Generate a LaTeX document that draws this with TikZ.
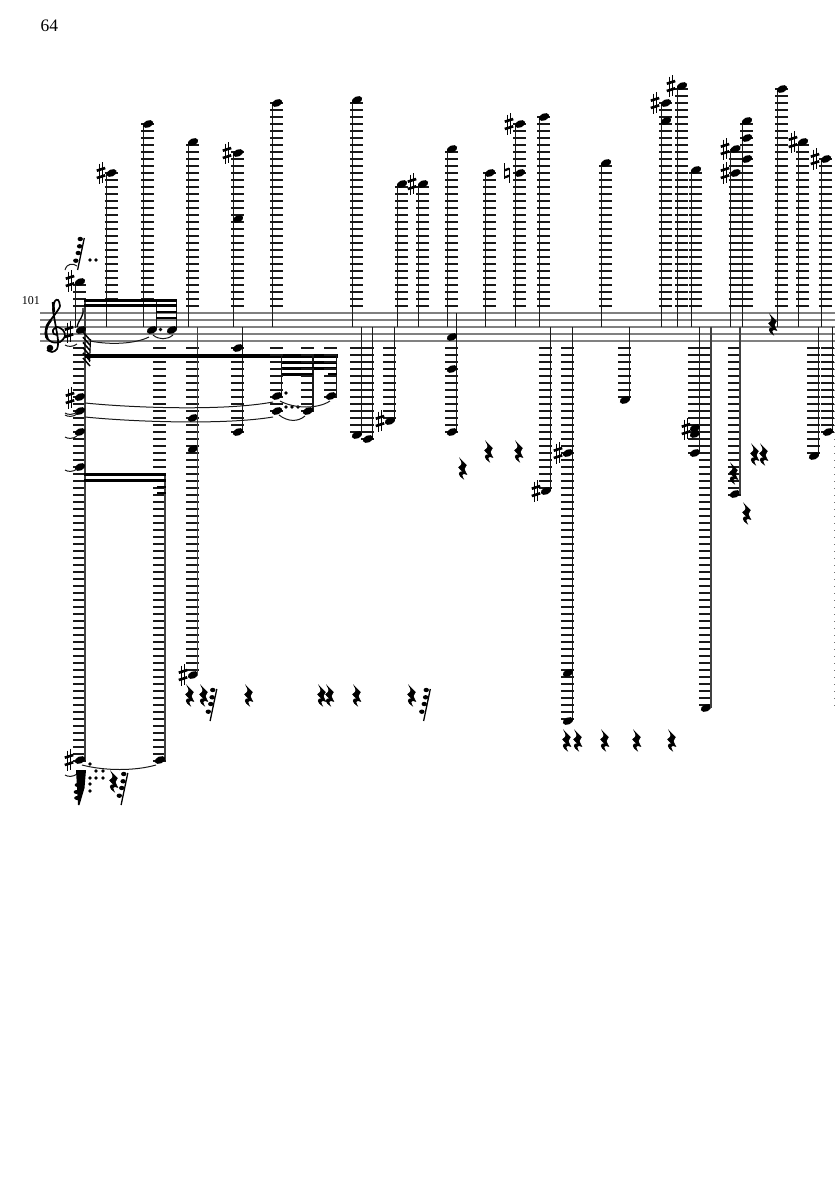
\documentclass[tikz,border=0pt]{standalone}
\usepackage{tikz}
\usepackage{fontspec}
\setmainfont{Liberation Serif}
\tikzset{
  staffline/.style={line width=1.1pt,draw=black!50},
  stemline/.style={line width=1.25pt,draw=black!90},
  thickstem/.style={line width=1.9pt,draw=black!75},
  ledger/.style={line width=1.3pt,draw=black!90},
  beam/.style={line width=4pt,draw=black},
  thinbeam/.style={line width=2.2pt,draw=black},
  slur/.style={line width=1pt,draw=black!90},
  dotmark/.style={fill=black},
}
% head
\newcommand\nh[2]{\fill[rotate around={24:(#1,#2)}] (#1,#2) ellipse [x radius=5.5pt,y radius=3.5pt];}
% sharp
\newcommand\shp[2]{\begin{scope}[shift={(#1,#2)}]
  \draw[line width=.95pt] (-1.9,-9.5) -- (-1.9,11) (1.9,-11) -- (1.9,9.5);
  \draw[line width=2.6pt] (-4.2,-2.3) -- (4.2,-5) (-4.2,5) -- (4.2,2.3);
\end{scope}}
% natural
\newcommand\ntl[2]{\begin{scope}[shift={(#1,#2)}]
  \draw[line width=1pt] (-2.4,-10) -- (-2.4,5.5) (2.4,-5.5) -- (2.4,10);
  \draw[line width=2.3pt] (-2.4,-2.7) -- (2.4,-4.4) (-2.4,4.4) -- (2.4,2.7);
\end{scope}}
% ledgers above the staff
\newcommand\ledup[2]{\pgfmathtruncatemacro\nn{int((313-#2+1)/7)}
  \foreach \k in {1,...,\nn}{\draw[ledger] (#1-6.8,313-7*\k) -- (#1+6.3,313-7*\k);}}
% ledgers below the staff
\newcommand\leddn[2]{\pgfmathtruncatemacro\nn{int((#2-341+1)/7)}
  \foreach \k in {1,...,\nn}{\draw[ledger] (#1-6.8,341+7*\k) -- (#1+6.3,341+7*\k);}}
% high note: head x, top y; stem to the left, reaching the middle of the staff
\newcommand\hin[2]{\ledup{#1}{#2}\draw[stemline] (#1-4.8,#2) -- (#1-4.8,327);\nh{#1}{#2}}
% low note: head x, lowest y; stem to the right
\newcommand\lon[2]{\leddn{#1}{#2}\draw[stemline] (#1+4.8,327) -- (#1+4.8,#2);\nh{#1}{#2}}
% quarter rest
\newcommand\qrest[2]{\filldraw[line width=.6pt,shift={(#1,#2)},xscale=1.35,yscale=1.08] (-1.5,-9.5) -- (3.2,-3.5) .. controls (1.5,-1.5) and (1,0) .. (3.5,5) .. controls (1,3.5) and (-1.5,4.5) .. (1,9) .. controls (-3,6) and (-3,2) .. (0.5,2.5) -- (-2.5,-1.5) .. controls (0.5,-4) and (0.5,-6) .. cycle;}
% 64th-style rest
\newcommand\hrest[2]{\begin{scope}[shift={(#1,#2)}]
  \draw[line width=1.3pt] (3.3,-16) -- (-3.4,16);
  \foreach \yy/\xx in {-15/-0.8,-7.7/-1.4,-1/-2.8,6.7/-5.2}{\fill (\xx,\yy) ellipse [x radius=2.7pt,y radius=2.2pt];}
\end{scope}}
\newcommand\dotm[2]{\fill[dotmark] (#1,#2) circle [radius=1.8pt];}
\begin{document}
\begin{tikzpicture}[x=1pt,y=-1pt]
\useasboundingbox (0,0) rectangle (835,1181);
\fill[white] (0,0) rectangle (835,1181);
\node[anchor=west,inner sep=0pt,font=\fontsize{17.5}{17.5}\selectfont] (pagenum) at (40.5,25.5) {64};
\node[anchor=east,inner sep=0pt,font=\fontsize{12}{12}\selectfont] (barnum) at (40,301) {101};
% staff
\foreach \yy in {313,320,327,334,341}{\draw[staffline] (40,\yy) -- (835,\yy);}
% clef and key
\draw[line width=1.7pt] plot[smooth] coordinates {(58,335)(54,334)(53,330)(57,327)(63,330)(65,336)(60,342)(52,342)(46,337)(46,330)(50,321)(56,313)(60,306)(58,300)(55,301)(53,309)(55,322)(58,340)(57,349)(52,352)(47,350)};
\draw[line width=2.6pt] plot[smooth] coordinates {(47.5,339)(46,333)(47,326)(51,320)};
\draw[line width=2.4pt] (53,302) -- (54,312);
\fill (50,348) circle [radius=3.3pt];
\shp{69}{332}
% high notes
\hin{111.5}{173}\shp{101}{173}
\hin{148}{124}
\hin{193}{142}
\hin{238}{153}\nh{238}{219}\shp{227}{153}
\hin{277}{103}
\hin{357}{100}
\hin{402}{184}
\hin{423}{184}\shp{412}{184}
\hin{452}{149}
\hin{490}{173}
\hin{520}{124}\nh{520}{173}\shp{509}{124}\ntl{507}{173}
\hin{544}{117}
\hin{606}{163}
\hin{666}{103}\nh{666}{121}\shp{655}{103}
\hin{682}{86}\shp{671}{86}
\hin{696}{170}
\hin{735.5}{149}\nh{735.5}{173}\shp{725}{149}\shp{725}{173}
\hin{747}{121}\nh{747}{138}\nh{747}{159}
\hin{782}{89}
\hin{803}{142}\shp{793}{142}
\hin{826}{159}\shp{815}{159}
% low notes
\lon{193}{675}\nh{193}{418}\nh{193}{449}\shp{183}{675}
\draw[thickstem] (197.5,327) -- (197.5,675);
\lon{238}{432}\nh{238}{348}
\lon{357}{435}
\lon{368}{439}
\lon{390}{421}\shp{380}{421}
\ledup{80}{282}
\leddn{452}{432}\draw[stemline] (456.8,313) -- (456.8,432);\nh{452}{432}\nh{452}{337}\nh{452}{369}
\lon{546}{491}\shp{536}{491}
\lon{568}{721}\nh{568}{453}\nh{568}{673}\shp{558}{453}
\lon{625}{400}
\lon{695}{453}\nh{695}{428}\nh{695}{434}\shp{686}{429}
\lon{706}{708}
\draw[thickstem] (711,327) -- (711,708);
\lon{735}{494}
\draw[thickstem] (740,327) -- (740,494);
\lon{814}{456}
\lon{828}{432}
\foreach \k in {1,...,52}{\draw[line width=1pt,draw=black!55] (834.2,341+7*\k) -- (835,341+7*\k);}
% first column
\leddn{80}{760}
\leddn{160}{760}
\draw[thickstem] (84.7,300) -- (84.7,760);
\draw[stemline] (75.5,282) -- (75.5,328);
\draw[line width=1.3pt] (77,327) .. controls (79,318) and (84,318) .. (83,308);
\nh{80}{282}\shp{70}{281}
\nh{81}{330}
\nh{80}{397}\shp{70}{398}
\nh{80}{411}\nh{80}{432}\nh{80}{467}
\nh{80}{760}\shp{69}{760}
% top beamed group
\draw[stemline] (156.5,300) -- (156.5,329);
\draw[stemline] (176.2,300) -- (176.2,329);
\nh{152}{330}\nh{172}{330}
\draw[line width=2.6pt] (84,300.5) -- (177,300.5);
\draw[line width=3pt] (84,305.7) -- (177,305.7);
\draw[thinbeam] (156,312) -- (177,312);
\draw[thinbeam] (156,318) -- (177,318);
\dotm{160.5}{329.5}
% hatched flag
\foreach \k in {0,...,5}{\draw[line width=1.5pt] (83,332+5.2*\k) -- (90,340+5.2*\k);}
\draw[line width=1.2pt] (90.5,339) -- (89.5,362);
% long beam
\draw[beam] (85,355.5) -- (337.5,355.5);
\draw[stemline] (281.8,355) -- (281.8,396);
\draw[stemline] (313,355) -- (313,411);
\draw[stemline] (336.3,355) -- (336.3,396);
\draw[thinbeam,line width=3pt] (282,362.5) -- (337,362.5);
\draw[thinbeam,line width=2.4pt] (282,368.5) -- (337,368.5);
\draw[thinbeam,line width=3pt] (282,374.5) -- (313,374.5);
\draw[thinbeam,line width=3pt] (328,374.5) -- (337,374.5);
\leddn{277}{411}\leddn{308}{411}\leddn{331}{396}
\nh{277}{396}\nh{277}{411}\nh{308}{411}\nh{331}{396}
\dotm{286}{393}\dotm{286}{407}\dotm{292}{407}\dotm{298}{407}
% second beamed group
\draw[thickstem] (165,474) -- (165,760);
\draw[line width=2.8pt] (84,474.5) -- (166,474.5);
\draw[line width=3.4pt] (84,480.7) -- (166,480.7);
\draw[line width=2.4pt] (157,487) -- (166,487);
\draw[line width=2.4pt] (157,493) -- (166,493);
\nh{160}{760}
% slurs and ties
\draw[slur] (90,341) .. controls (110,345) and (135,344) .. (149,337);
\draw[slur] (153,335) .. controls (159,340) and (167,340) .. (173,335);
\draw[slur] (85,403) .. controls (135,408) and (225,411) .. (273,402);
\draw[slur] (85,417) .. controls (135,422) and (225,425) .. (273,417);
\draw[slur] (280,401) .. controls (295,409) and (318,409) .. (330,401);
\draw[slur] (279,415) .. controls (288,422) and (298,422) .. (305,416);
\draw[slur] (82,765) .. controls (105,771) and (135,771) .. (156,765);
\foreach \yy in {345,413,415,437,470,775}{\draw[slur] (65,\yy) .. controls (68,\yy+2) and (73,\yy+2) .. (77,\yy-1);}
\draw[slur] (65,270) .. controls (67,263) and (73,263) .. (77,266);
% top rests
\hrest{81}{254}
\dotm{90}{260}\dotm{96}{260}
% rests
\foreach \xx/\yy in {189/696,203/696,248/696,321/696,329/696,356/696,411/696,566/741,577/741,604/741,636/741,671/741,462/469,488/452,518/452,772/325,733/474,754/455,763/455,746/514,113/782}{\qrest{\xx}{\yy}}
\hrest{213.5}{705}
\hrest{427}{705}
\hrest{124.5}{789}
% black cluster below the first column
\fill (76,770) -- (86,770) -- (84.5,788) -- (79.5,805) -- (78,805) -- cycle;
\foreach \xx/\yy in {77.5/785,76.5/792,77/798}{\fill (\xx,\yy) ellipse [x radius=2.8pt,y radius=2pt];}
\foreach \xx/\yy in {90/764,96/771,103/771,90/778,96/778,103/778,90/784,90/791}{\dotm{\xx}{\yy}}
\end{tikzpicture}
\end{document}
